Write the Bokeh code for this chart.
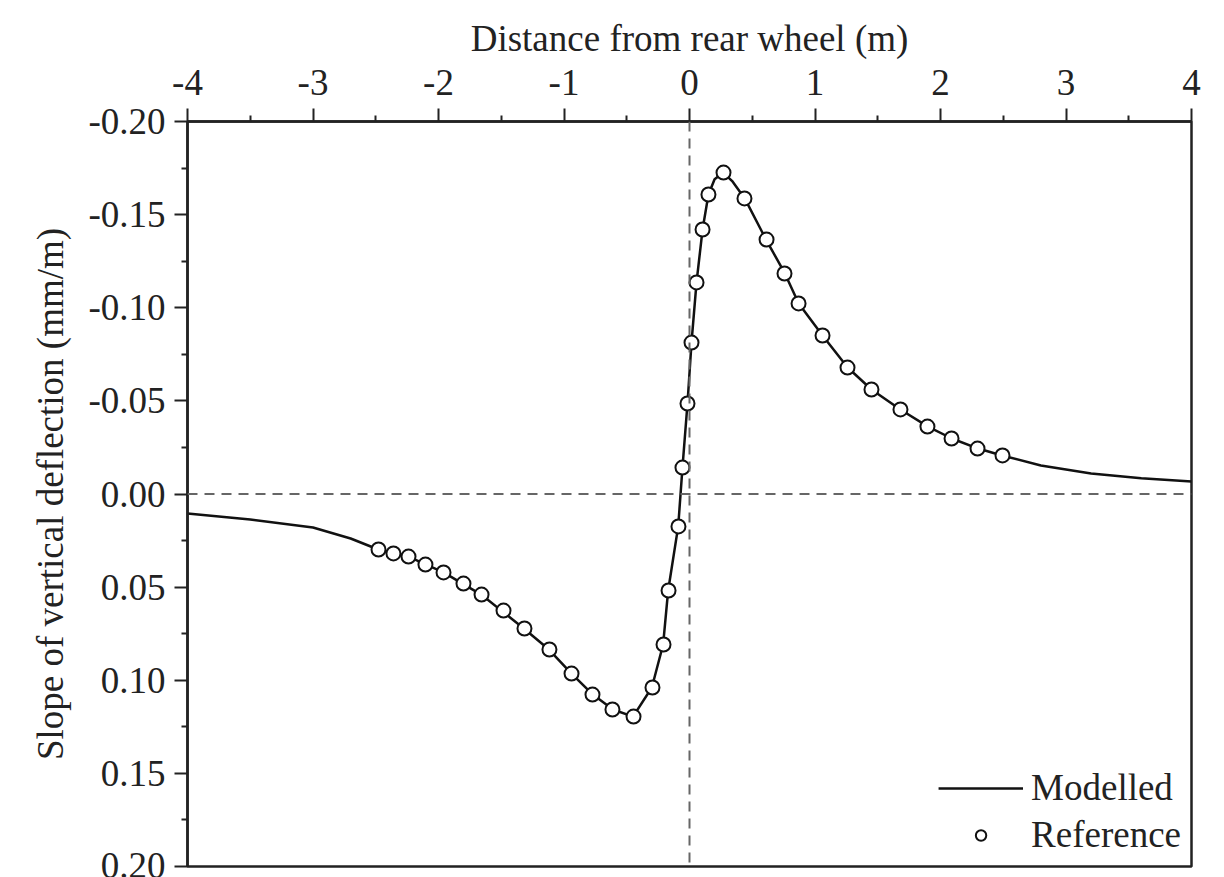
from bokeh.plotting import figure
from bokeh.models import Range1d, FixedTicker, Span, Legend, LegendItem
from bokeh.embed import file_html
from bokeh.resources import INLINE

# ---- data ----
x_ticks = [-4, -3, -2, -1, 0, 1, 2, 3, 4]
x_tick_labels = ["-4", "-3", "-2", "-1", "0", "1", "2", "3", "4"]
x_minor = [-3.5, -2.5, -1.5, -0.5, 0.5, 1.5, 2.5, 3.5]
y_ticks = [-0.20, -0.15, -0.10, -0.05, 0.00, 0.05, 0.10, 0.15, 0.20]
y_tick_labels = ["-0.20", "-0.15", "-0.10", "-0.05", "0.00", "0.05", "0.10", "0.15", "0.20"]
y_minor = [-0.175, -0.125, -0.075, -0.025, 0.025, 0.075, 0.125, 0.175]

ref_x = [-2.478, -2.359, -2.239, -2.104, -1.960, -1.801, -1.657, -1.482, -1.315,
         -1.116, -0.940, -0.773, -0.614, -0.446, -0.295, -0.207, -0.167, -0.088,
         -0.056, -0.016, 0.016, 0.056, 0.104, 0.151, 0.271, 0.438, 0.614, 0.757,
         0.869, 1.060, 1.259, 1.450, 1.681, 1.896, 2.088, 2.295, 2.494]
ref_y = [0.0298, 0.0319, 0.0336, 0.0379, 0.0421, 0.0481, 0.0540, 0.0626, 0.0722,
         0.0835, 0.0964, 0.1077, 0.1157, 0.1195, 0.1039, 0.0808, 0.0518, 0.0174,
         -0.0142, -0.0486, -0.0813, -0.1136, -0.1420, -0.1608, -0.1726, -0.1587,
         -0.1366, -0.1184, -0.1023, -0.0851, -0.0679, -0.0561, -0.0454, -0.0362,
         -0.0298, -0.0244, -0.0207]

model_x = [-4.0, -3.5, -3.0, -2.7, -2.48, -2.24, -1.96, -1.66, -1.32, -1.12, -0.94,
           -0.77, -0.61, -0.45, -0.30, -0.21, -0.17, -0.09, -0.056, -0.016, 0.016,
           0.056, 0.104, 0.151, 0.20, 0.27, 0.34, 0.44, 0.61, 0.76, 0.87, 1.06,
           1.26, 1.45, 1.68, 1.90, 2.09, 2.30, 2.49, 2.8, 3.2, 3.6, 4.0]
model_y = [0.0105, 0.0137, 0.0180, 0.0239, 0.0298, 0.0336, 0.0421, 0.0540, 0.0722,
           0.0835, 0.0964, 0.1077, 0.1157, 0.1195, 0.1039, 0.0808, 0.0518, 0.0174,
           -0.0142, -0.0486, -0.0813, -0.1136, -0.1420, -0.1608, -0.1690, -0.1726,
           -0.1680, -0.1587, -0.1366, -0.1184, -0.1023, -0.0851, -0.0679, -0.0561,
           -0.0454, -0.0362, -0.0298, -0.0244, -0.0207, -0.0153, -0.0110, -0.0085,
           -0.0067]

FONT = "Liberation Serif"
INK = "#222222"
FS = "37px"

p = figure(frame_width=1004, frame_height=745,
           x_range=Range1d(-4, 4), y_range=Range1d(0.20, -0.20),
           x_axis_location="above", y_axis_location="left",
           output_backend="svg", toolbar_location=None,
           min_border_left=187, min_border_top=121, min_border_right=25,
           min_border_bottom=11)
p.background_fill_color = "white"
p.border_fill_color = "white"
p.grid.visible = False
p.outline_line_color = INK
p.outline_line_width = 2.5
p.outline_line_alpha = 1

xa = p.xaxis[0]
xa.ticker = FixedTicker(ticks=x_ticks, minor_ticks=x_minor)
xa.major_label_overrides = {float(t): l for t, l in zip(x_ticks, x_tick_labels)}
xa.axis_label = "Distance from rear wheel (m)"

ya = p.yaxis[0]
ya.ticker = FixedTicker(ticks=y_ticks, minor_ticks=y_minor)
ya.major_label_overrides = {t: l for t, l in zip(y_ticks, y_tick_labels)}
ya.axis_label = "Slope of vertical deflection (mm/m)"

for ax in (xa, ya):
    ax.axis_line_color = INK
    ax.axis_line_width = 2.5
    ax.major_tick_line_color = INK
    ax.major_tick_line_width = 2
    ax.minor_tick_line_color = INK
    ax.minor_tick_line_width = 2
    ax.major_tick_out = 13
    ax.major_tick_in = 0
    ax.minor_tick_out = 6
    ax.minor_tick_in = 0
    ax.major_label_text_font = FONT
    ax.major_label_text_font_size = FS
    ax.major_label_text_color = INK
    ax.axis_label_text_font = FONT
    ax.axis_label_text_font_size = FS
    ax.axis_label_text_font_style = "normal"
    ax.axis_label_text_color = INK

xa.major_label_standoff = 14
xa.axis_label_standoff = 8
ya.major_label_standoff = 9
ya.axis_label_standoff = 14

p.add_layout(Span(location=0, dimension="width", line_color="#666666",
                  line_width=2, line_dash="10 7"))
p.add_layout(Span(location=0, dimension="height", line_color="#666666",
                  line_width=2, line_dash="10 7"))

line_r = p.line(model_x, model_y, line_color="#111111", line_width=2.5)
pts_r = p.scatter(ref_x, ref_y, marker="circle", size=14, fill_color="white",
                  line_color="#111111", line_width=2)

legend = Legend(items=[LegendItem(label="Modelled", renderers=[line_r]),
                       LegendItem(label="Reference", renderers=[pts_r])],
                location="bottom_right")
legend.label_text_font = FONT
legend.label_text_font_size = FS
legend.label_text_color = INK
legend.glyph_width = 85
legend.glyph_height = 26
legend.label_height = 40
legend.spacing = 4
legend.padding = 2
legend.margin = 8
legend.label_standoff = 8
legend.background_fill_alpha = 0
legend.border_line_alpha = 0
p.add_layout(legend)

open("out.html", "w").write(file_html(p, INLINE))
